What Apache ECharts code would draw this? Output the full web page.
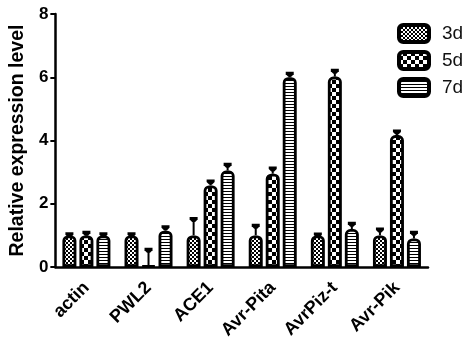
<!DOCTYPE html>
<html><head><meta charset="utf-8">
<script src="https://cdn.jsdelivr.net/npm/echarts@6/dist/echarts.min.js"></script>
<style>html,body{margin:0;padding:0;background:#fff}#c{width:463px;height:351px}</style>
</head><body><div id="c"></div>
<script>
const categories = ['actin', 'PWL2', 'ACE1', 'Avr-Pita', 'AvrPiz-t', 'Avr-Pik'];
const seriesNames = ['3d', '5d', '7d'];
const values3d = [1.0, 1.0, 1.0, 1.0, 1.0, 1.0];
const values5d = [1.0, 0.04, 2.58, 2.95, 6.02, 4.17];
const values7d = [1.0, 1.15, 3.05, 6.0, 1.2, 0.9];
const errors3d = [0.05, 0.05, 0.53, 0.32, 0.04, 0.2];
const errors5d = [0.1, 0.52, 0.14, 0.18, 0.2, 0.13];
const errors7d = [0.05, 0.12, 0.2, 0.13, 0.18, 0.2];
const yTicks = [0, 2, 4, 6, 8];

function makePattern(kind) {
  const c = document.createElement('canvas');
  const ctx = c.getContext('2d');
  if (kind === 'fine') {
    c.width = 4; c.height = 4;
    ctx.fillStyle = '#fff'; ctx.fillRect(0, 0, 4, 4);
    ctx.fillStyle = '#000';
    ctx.fillRect(0, 0, 2, 2); ctx.fillRect(2, 2, 2, 2);
  } else if (kind === 'check') {
    c.width = 8; c.height = 8;
    ctx.fillStyle = '#000'; ctx.fillRect(0, 0, 8, 8);
    ctx.fillStyle = '#fff';
    ctx.fillRect(0, 0, 4, 4); ctx.fillRect(4, 4, 4, 4);
  } else {
    c.width = 4; c.height = 3;
    ctx.fillStyle = '#fff'; ctx.fillRect(0, 0, 4, 3);
    ctx.fillStyle = '#000'; ctx.fillRect(0, 2, 4, 1);
  }
  return { image: c, repeat: 'repeat' };
}
const patterns = [makePattern('fine'), makePattern('check'), makePattern('stripe')];
const allValues = [values3d, values5d, values7d];
const allErrors = [errors3d, errors5d, errors7d];

const BAR_W = 14, BAR_GAP = 3;
const font = '"Liberation Sans", Arial, sans-serif';

const series = [];
seriesNames.forEach((name, s) => {
  series.push({
    name: name, type: 'bar', barWidth: BAR_W, barGap: (BAR_GAP / BAR_W * 100) + '%',
    data: allValues[s],
    itemStyle: { color: patterns[s], borderColor: '#000', borderWidth: 2.8, borderRadius: [4, 4, 0, 0] },
    z: 2
  });
});
seriesNames.forEach((name, s) => {
  series.push({
    name: name + ' err', type: 'custom', z: 3,
    data: allValues[s].map((v, i) => [i, v, allErrors[s][i]]),
    encode: { x: 0, y: 1 },
    renderItem: function (params, api) {
      const i = api.value(0), v = api.value(1), e = api.value(2);
      const p0 = api.coord([i, v]);
      const p1 = api.coord([i, v + e]);
      const x = p0[0] + (s - 1) * (BAR_W + BAR_GAP);
      const yb = p0[1], yt = p1[1];
      return {
        type: 'group',
        children: [
          { type: 'line', shape: { x1: x, y1: yb, x2: x, y2: yt }, style: { stroke: '#000', lineWidth: 2 } },
          { type: 'polygon', shape: { points: [[x - 4, yt - 1.5], [x + 4, yt - 1.5], [x + 4, yt + 1], [x + 1.5, yt + 3.5], [x - 1.5, yt + 3.5], [x - 4, yt + 1]] }, style: { fill: '#000' } }
        ]
      };
    }
  });
});

const chart = echarts.init(document.getElementById('c'), null, { renderer: 'canvas' });
chart.setOption({
  animation: false,
  backgroundColor: '#fff',
  grid: { left: 48, right: 35, top: 14, bottom: 84, containLabel: false },
  legend: {
    data: seriesNames, orient: 'vertical', left: 392, top: 18,
    icon: 'roundRect', itemWidth: 30, itemHeight: 17, itemGap: 6,
    itemStyle: { borderColor: '#000', borderWidth: 4 },
    textStyle: { fontSize: 19, color: '#111', fontFamily: font, padding: [0, 0, 0, 8] }
  },
  xAxis: {
    type: 'category', data: categories,
    axisLine: { lineStyle: { color: '#000', width: 2.5 } },
    axisTick: { alignWithLabel: true, length: 5, lineStyle: { color: '#000', width: 2 } },
    axisLabel: { rotate: 45, color: '#000', fontWeight: 'bold', fontSize: 18, fontFamily: font, margin: 18, interval: 0 }
  },
  yAxis: {
    type: 'value', min: yTicks[0], max: yTicks[yTicks.length - 1], interval: 2,
    name: 'Relative expression level', nameLocation: 'middle', nameGap: 25,
    nameTextStyle: { color: '#000', fontWeight: 'bold', fontSize: 19.5, fontFamily: font },
    axisLine: { show: true, lineStyle: { color: '#000', width: 2.5 } },
    axisTick: { show: true, length: 5, lineStyle: { color: '#000', width: 2 } },
    axisLabel: { color: '#000', fontWeight: 'bold', fontSize: 17, fontFamily: font, margin: 7 },
    splitLine: { show: false }
  },
  series: series
});
</script></body></html>
